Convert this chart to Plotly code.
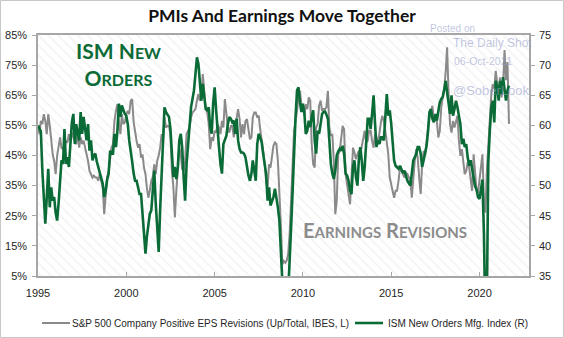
import pandas as pd
import plotly.graph_objects as go

# Monthly data, Jan 1995 .. Sep 2021
start_month = "1995-01-01"

eps_revisions = [  # % positive EPS revisions (left axis)
    54.8, 52.1, 56.5, 55.4, 58.7, 56.5, 52.1, 58.7, 55, 48.8, 45.4, 43.2,
    38.8, 45, 48.8, 51, 47.6, 47.1, 47.1, 49.9, 49.3, 52.1, 49.9, 52.6,
    51, 49.9, 48.8, 52.1, 47.6, 51, 48.8, 49.9, 47.6, 46, 43.2, 39.9,
    38.8, 37.7, 38.3, 37.7, 37.7, 36.6, 38.8, 36.6, 34.4, 25.5, 31.5, 37.7,
    39.9, 45.4, 47.6, 48.8, 56.5, 59.8, 62, 56, 52.1, 58.7, 55.4, 56,
    58.7, 59.8, 58.7, 63.2, 63.7, 56, 52, 49.9, 47.6, 48.8, 44.3, 45.4,
    41, 38.8, 34.4, 31, 33.3, 36.6, 37.7, 42.1, 38.8, 43.2, 45, 47.6,
    52.1, 50, 57.6, 54.3, 54.8, 54.8, 52.1, 39.9, 34.4, 24.4, 33.3, 41,
    47.6, 45.4, 40.5, 39.9, 43.2, 52.1, 53.2, 54.3, 57.6, 59.3, 59.8, 60.4,
    63.2, 65.4, 63.2, 63.7, 72, 65.4, 60.4, 59.3, 55.4, 47.1, 51, 49.9,
    53.2, 52.6, 55.4, 54.3, 52.1, 56.5, 54.3, 63.7, 58.7, 54.3, 52.6, 54.8,
    54.8, 51, 54.3, 58.2, 60.4, 57.1, 51, 55.4, 52.1, 56.5, 57.1, 53.7,
    50.4, 51, 57.6, 59.3, 59.3, 57.6, 58.2, 53.7, 50.4, 46.5, 42.1, 36.6,
    34.4, 42.1, 41, 44.9, 48.2, 49.3, 48.8, 43.2, 34.4, 22.2, 8.9, 10,
    9.4, 10.2, 12.2, 18.9, 29.9, 41, 53.2, 56.5, 59.8, 64.8, 66.5, 61.5,
    62, 58.2, 62, 60.4, 64.3, 63.2, 48.8, 42.1, 41, 54.3, 55.4, 61.5,
    63.2, 59.8, 60.4, 60.4, 61, 66.5, 54.3, 51.5, 52.1, 43.2, 25.5, 30,
    45.4, 46.5, 49.9, 54.8, 53.7, 38.8, 35.5, 32.2, 28.8, 37.7, 47.6, 46,
    43.8, 45.4, 46.5, 45.4, 48.2, 51, 53.2, 49.3, 49.9, 53.2, 53.2, 49.9,
    47.6, 52.1, 51, 48.8, 52.6, 56, 58.2, 56.5, 53.2, 48.8, 45.4, 37.7,
    35.5, 32.2, 31, 33.3, 33.3, 36.6, 41, 39.9, 38.8, 37.7, 39.3, 38.8,
    37.7, 36.6, 31, 37.7, 43.2, 47.1, 44.3, 37.7, 32.2, 42.1, 46.5, 44.9,
    51, 54.3, 57.6, 59.3, 61.5, 56.5, 57.6, 56.5, 51, 53.2, 61, 64.3,
    67, 73.1, 80.9, 65.4, 55.4, 52.6, 56.5, 54.3, 56, 58.2, 49.9, 44.9,
    47.1, 43.2, 38.8, 39.9, 42.7, 41, 36, 33.3, 45.4, 37.7, 33.3, 32.7,
    36.6, 41, 45.4, 30, 26, 40, 48.8, 57.6, 65.4, 68.7, 67, 73.1,
    68.7, 67, 70.9, 64.3, 67.6, 80, 70, 76, 55.5,
]

ism_new_orders = [  # ISM new orders index (right axis)
    60, 59.5, 59, 52.5, 48.6, 43.7, 48, 52.8, 46.4, 49.7, 47.5, 48.1,
    45.5, 44.2, 47, 50, 54.2, 53.6, 59.4, 53.6, 54.7, 53.1, 56.9, 60.5,
    61.9, 56.9, 60.2, 58.6, 57.5, 62.2, 58.6, 61.4, 59.5, 57.5, 60.2, 55.8,
    57.5, 54.2, 55, 55.3, 54, 53, 52, 51, 50.3, 48.1, 49.2, 51,
    52, 55.8, 55.3, 55.3, 58.6, 56.4, 59.1, 63.6, 61.4, 63.3, 62.5, 61.9,
    61.6, 60.2, 57.5, 56, 54, 52, 50.8, 50.8, 49.7, 48.6, 48.6, 45,
    41, 38.7, 41.5, 43.1, 45.3, 45.9, 48.6, 52.5, 47, 42, 39, 46,
    53, 57, 63, 62.2, 61.7, 61.4, 59.5, 55.3, 51.4, 53.1, 51.1, 53,
    57.5, 58.6, 56.4, 51.4, 47.5, 53.6, 56.4, 60.2, 63, 64.4, 65.8, 68.5,
    71.3, 70.2, 67.4, 64.1, 66.9, 64.7, 62.7, 62.5, 63, 59.7, 58.6, 63.6,
    66.3, 62.5, 60.2, 56.4, 53.6, 52, 56.9, 57.5, 58.3, 60.2, 61.4, 61.1,
    60.5, 60.8, 58.6, 61.1, 57.5, 56.1, 55.5, 55.5, 55.3, 54.7, 53.1, 51.7,
    50.8, 52, 54.2, 52.5, 50.8, 56.9, 58.6, 58, 57.2, 55.3, 53.9, 52,
    47.5, 49.7, 46.7, 47.5, 48.1, 49.5, 48.1, 46.4, 44.2, 40.3, 35.5, 28,
    24, 27, 33, 38, 43, 49, 55.8, 61.4, 65.8, 66.3, 63.8, 62.2,
    63.6, 61.9, 58.6, 59.1, 60.8, 59.7, 61.4, 62.5, 57.5, 55.3, 59.1, 58.6,
    60.2, 61.9, 62.2, 62.3, 61.8, 61.1, 57.5, 53.6, 52, 51.1, 52.5, 55,
    55.7, 56.1, 55.8, 56.6, 55.3, 52, 51.7, 50.8, 49.2, 48.6, 53.1, 54.2,
    51.4, 50, 54.2, 56.4, 54.2, 50.8, 53.1, 57.5, 61.1, 61.1, 59.4, 61.9,
    65, 60.2, 56.4, 57.5, 56.9, 58, 58, 57.5, 62.5, 65.2, 61.6, 62.5,
    60.2, 56.4, 54.2, 53.3, 53.1, 52.8, 53.3, 52.5, 52.1, 52.5, 51.4, 50.8,
    50.4, 50, 52, 54.2, 54.7, 55.2, 56.4, 56.4, 55.3, 53.1, 54.2, 55.5,
    56.6, 59.1, 62.2, 62.7, 61.1, 60.5, 61.9, 60.8, 62.3, 63.8, 64.4, 64.7,
    66, 67.4, 65.5, 63.6, 61.9, 65, 61.6, 62.7, 64.1, 63, 61.1, 60.2,
    56.9, 57.8, 56.4, 56.9, 54.7, 53.3, 54.2, 52.5, 50.8, 49.9, 49.3, 48.1,
    47.8, 49.7, 51, 42, 27, 31, 54, 59.1, 63, 64.1, 60.5, 67.4,
    66.3, 64.1, 67.4, 65.2, 68, 66, 64.1, 65.8, 66.6,
]

series_names = [
    "S&P 500 Company Positive EPS Revisions (Up/Total, IBES, L)",
    "ISM New Orders Mfg. Index (R)",
]
left_ticks = [5, 15, 25, 35, 45, 55, 65, 75, 85]
right_ticks = [35, 40, 45, 50, 55, 60, 65, 70, 75]
x_ticks = ["1995-01-01", "2000-01-01", "2005-01-01", "2010-01-01", "2015-01-01", "2020-01-01"]
x_range = ["1995-01-01", "2022-10-20"]

dates = pd.date_range(start_month, periods=len(eps_revisions), freq="MS")

W, H = 564, 338
ML, MR, MT, MB = 38, 35, 35, 62
PW, PH = W - ML - MR, H - MT - MB

GRAY = "#8a8a8a"
GREEN = "#0b6b37"
AXC = "#a6a6a6"
TXT = "#262626"
FONT = "Liberation Sans, Arial, sans-serif"

fig = go.Figure()

# hatched plot background
fig.add_trace(go.Scatter(
    x=[x_range[0], x_range[1], x_range[1], x_range[0], x_range[0]],
    y=[left_ticks[0], left_ticks[0], left_ticks[-1], left_ticks[-1], left_ticks[0]],
    fill="toself", mode="none", hoverinfo="skip", showlegend=False,
    fillcolor="rgba(0,0,0,0)",
    fillpattern=dict(shape="\\", fgcolor="#e6e6e6", bgcolor="white", size=7, solidity=0.22),
))

fig.add_trace(go.Scatter(
    x=dates, y=eps_revisions, mode="lines", name=series_names[0],
    line=dict(color=GRAY, width=2), showlegend=False,
))
fig.add_trace(go.Scatter(
    x=dates, y=ism_new_orders, mode="lines", yaxis="y2", name=series_names[1],
    line=dict(color=GREEN, width=2.6), showlegend=False,
))

tick_font = dict(family=FONT, size=11, color=TXT)

fig.update_layout(
    width=W, height=H,
    margin=dict(l=ML, r=MR, t=MT, b=MB, autoexpand=False),
    paper_bgcolor="white", plot_bgcolor="white",
    title=dict(text="<b>PMIs And Earnings Move Together</b>", x=0.5, xanchor="center",
               y=1 - 16 / H, yanchor="middle",
               font=dict(family="Lato, Open Sans, sans-serif", size=17.5, color="#111111")),
    xaxis=dict(type="date", range=x_range, tickvals=x_ticks, tickformat="%Y",
               ticks="inside", ticklen=4, tickcolor=AXC, ticklabelstandoff=6,
               showline=True, linecolor=AXC, linewidth=1.5, mirror=True,
               showgrid=False, zeroline=False, tickfont=tick_font),
    yaxis=dict(range=[left_ticks[0], left_ticks[-1]], tickvals=left_ticks,
               ticktext=[f"{v}%" for v in left_ticks],
               ticks="outside", ticklen=4, tickcolor=AXC, ticklabelstandoff=3,
               showline=True, linecolor=AXC, linewidth=1.5,
               showgrid=False, zeroline=False, tickfont=tick_font),
    yaxis2=dict(range=[right_ticks[0], right_ticks[-1]], tickvals=right_ticks,
                overlaying="y", side="right",
                ticks="outside", ticklen=4, tickcolor=AXC, ticklabelstandoff=2,
                showline=True, linecolor=AXC, linewidth=1.5,
                showgrid=False, zeroline=False, tickfont=tick_font),
    showlegend=False,
)

def px(xp):
    return (xp - ML) / PW

def py(yp):
    return (H - MB - yp) / PH

WM = "rgba(150,160,205,0.6)"
LEG_Y = 323
ann = [
    dict(x=px(118), y=py(64),
         text="<b>ISM N<span style='font-size:16px'>EW</span><br>O<span style='font-size:16px'>RDERS</span></b>",
         font=dict(family="Lato, Open Sans, sans-serif", size=21, color=GREEN), align="center"),
    dict(x=px(385), y=py(230),
         text="<b>E<span style='font-size:15px'>ARNINGS</span> R<span style='font-size:15px'>EVISIONS</span></b>",
         font=dict(family="Lato, Open Sans, sans-serif", size=20, color="#8c8c8c")),
    dict(x=px(428), y=py(28), xanchor="left", text="Posted on",
         font=dict(family=FONT, size=10, color=WM)),
    dict(x=px(451), y=py(43), xanchor="left", text="The Daily Shot",
         font=dict(family=FONT, size=12, color=WM)),
    dict(x=px(452), y=py(61), xanchor="left", text="06-Oct-2021",
         font=dict(family=FONT, size=10.5, color=WM)),
    dict(x=px(451), y=py(91), xanchor="left", text="@SoberLook",
         font=dict(family=FONT, size=13, color=WM)),
    # legend labels
    dict(x=px(70), y=py(LEG_Y), xanchor="left", text=series_names[0],
         font=dict(family=FONT, size=10, color=TXT)),
    dict(x=px(386), y=py(LEG_Y), xanchor="left", text=series_names[1],
         font=dict(family=FONT, size=10, color=TXT)),
]
for a in ann:
    a.update(xref="paper", yref="paper", showarrow=False)
    a.setdefault("xanchor", "center")
    a.setdefault("yanchor", "middle")
fig.update_layout(annotations=ann)

# legend line samples
fig.add_shape(type="line", xref="paper", yref="paper",
              x0=px(42), x1=px(70), y0=py(LEG_Y), y1=py(LEG_Y),
              line=dict(color=GRAY, width=2))
fig.add_shape(type="line", xref="paper", yref="paper",
              x0=px(355), x1=px(383), y0=py(LEG_Y), y1=py(LEG_Y),
              line=dict(color=GREEN, width=2.6))

# outer frame around the whole image
fig.add_shape(type="rect", xref="paper", yref="paper",
              x0=px(0.5), x1=px(W - 0.5), y0=py(H - 0.5), y1=py(0.5),
              line=dict(color="#c8c8c8", width=1), fillcolor="rgba(0,0,0,0)", layer="above")

fig.write_html("out.html")
